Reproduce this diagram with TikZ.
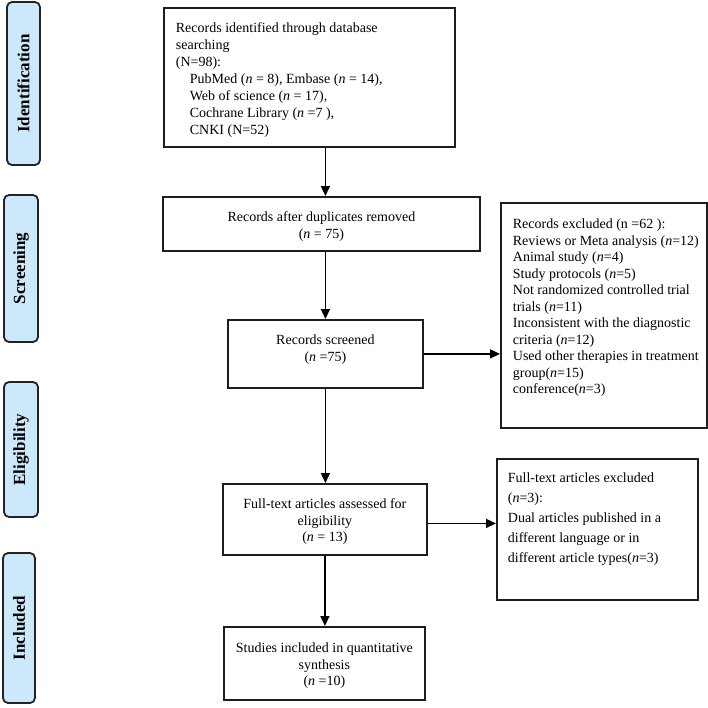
\documentclass[tikz,border=0pt]{standalone}
\usepackage{fontspec}
\setmainfont{Liberation Serif}
\usetikzlibrary{arrows.meta}
\definecolor{stagefill}{RGB}{205,232,250}
\definecolor{stageline}{RGB}{35,35,35}
\definecolor{boxline}{RGB}{30,30,30}
\newcommand\firstline[1]{\rule{0pt}{#1}}
\newcommand\nn{\textit{n}}
\begin{document}
\begin{tikzpicture}[x=1pt,y=-1pt,
  box/.style={draw=boxline, line width=1.8pt, inner sep=0pt, anchor=north west,
              font=\fontsize{14}{16.5}\selectfont},
  stage/.style={draw=stageline, fill=stagefill, line width=1.8pt, rounded corners=5pt,
                rotate=90, inner sep=0pt, font=\bfseries\fontsize{17}{20}\selectfont},
  arr/.style={line width=1.5pt, -{Triangle[width=9pt,length=10pt]}}]
\useasboundingbox (0,0) rectangle (708,707);

% stage labels
\node[stage, minimum width=163pt, minimum height=33pt] (s1) at (23.5,83.5) {Identification};
\node[stage, minimum width=147pt, minimum height=34pt] (s2) at (21,268.5) {Screening};
\node[stage, minimum width=135pt, minimum height=34pt] (s3) at (21,449.5) {Eligibility};
\node[stage, minimum width=150pt, minimum height=32pt] (s4) at (19,628) {Included};

% main column
\node[box] (b1) at (163,7) {\parbox[c][139pt][t]{291pt}{\fontsize{14}{17}\selectfont\raggedright\leftskip=12pt
  \firstline{24.6pt}Records identified through database\\
  searching\\
  (N=98):\\
  \hspace*{14pt}PubMed (\nn{} = 8), Embase (\nn{} = 14),\\
  \hspace*{14pt}Web of science (\nn{} = 17),\\
  \hspace*{14pt}Cochrane Library (\nn{} =7 ),\\
  \hspace*{14pt}CNKI (N=52)}};

\node[box] (b2) at (162,196) {\parbox[c][54pt][t]{317pt}{\centering
  \firstline{24.6pt}Records after duplicates removed\\
  (\nn{} = 75)}};

\node[box] (b3) at (227,319) {\parbox[c][68pt][t]{195pt}{\centering
  \firstline{24.6pt}Records screened\\
  (\nn{} =75)}};

\node[box] (b4) at (222,483) {\parbox[c][71pt][t]{204pt}{\centering
  \firstline{24.6pt}Full-text articles assessed for\\
  eligibility\\
  (\nn{} = 13)}};

\node[box] (b5) at (223,626) {\parbox[c][73pt][t]{201pt}{\centering
  \firstline{25.6pt}Studies included in quantitative\\
  synthesis\\
  (\nn{} =10)}};

% exclusion boxes
\node[box] (r1) at (500,202) {\parbox[c][225pt][t]{206pt}{\raggedright\leftskip=12pt
  \firstline{25.6pt}Records excluded (n =62 ):\\
  Reviews or Meta analysis (\nn=12)\\
  Animal study (\nn=4)\\
  Study protocols (\nn=5)\\
  Not randomized controlled trial\\
  trials (\nn=11)\\
  Inconsistent with the diagnostic\\
  criteria (\nn=12)\\
  Used other therapies in treatment\\
  group(\nn=15)\\
  conference(\nn=3)}};

\node[box] (r2) at (496,458) {\parbox[c][141pt][t]{201pt}{\fontsize{14}{20}\selectfont\raggedright\leftskip=11pt
  \firstline{23.6pt}Full-text articles excluded\\
  (\nn=3):\\
  Dual articles published in a\\
  different language or in\\
  different article types(\nn=3)}};

% connectors
\draw[arr] (b1.south -| b3.north) -- (b2.north -| b3.north);
\draw[arr] (b2.south -| b3.north) -- (b3.north);
\draw[arr] (b3.south) -- (b3.south |- b4.north);
\draw[arr] (b4.south) -- (b4.south |- b5.north);
\draw[arr] (b3.east) -- (b3.east -| r1.west);
\draw[arr] ([yshift=-4pt]b4.east) -- ([yshift=-4pt]b4.east -| r2.west);
\end{tikzpicture}
\end{document}
